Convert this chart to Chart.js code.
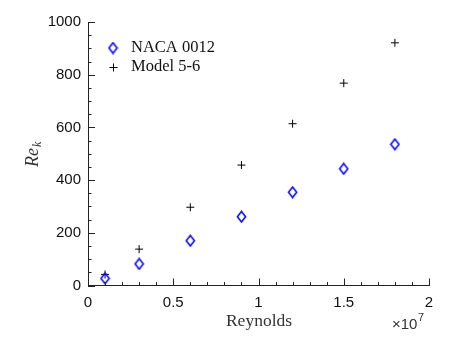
<!DOCTYPE html>
<html>
<head>
<meta charset="utf-8">
<script src="https://cdn.jsdelivr.net/npm/chart.js@4.4.1/dist/chart.umd.min.js"></script>
<style>
html,body{margin:0;padding:0;background:#fff;}
#c{display:block;}
</style>
</head>
<body>
<canvas id="c" width="462" height="347"></canvas>
<script>
// ---- data ----
const reynolds = [1e6, 3e6, 6e6, 9e6, 12e6, 15e6, 18e6];
const naca0012 = [27, 82, 170, 261, 354, 443, 536];
const model56 = [42, 138, 297, 457, 614, 768, 921];
const seriesNames = ['NACA 0012', 'Model 5-6'];
const xTickValues = [0, 0.5e7, 1e7, 1.5e7, 2e7];
const yTickValues = [0, 200, 400, 600, 800, 1000];

// diamond point style (hollow, slightly taller than wide)
function makeDiamond(){
  const cv = document.createElement('canvas');
  cv.width = 11; cv.height = 13;
  const g = cv.getContext('2d');
  g.strokeStyle = '#0000ff';
  g.lineWidth = 1.5;
  g.beginPath();
  g.moveTo(5.5, 1.2); g.lineTo(9.6, 6.5); g.lineTo(5.5, 11.8); g.lineTo(1.4, 6.5); g.closePath();
  g.stroke();
  return cv;
}
const diamond = makeDiamond();

function drawCross(ctx, x, y, r){
  ctx.save();
  ctx.strokeStyle = '#000';
  ctx.lineWidth = 1;
  ctx.beginPath();
  ctx.moveTo(x - r, y); ctx.lineTo(x + r, y);
  ctx.moveTo(x, y - r); ctx.lineTo(x, y + r);
  ctx.stroke();
  ctx.restore();
}

const decorPlugin = {
  id: 'decor',
  afterDraw(chart){
    const ctx = chart.ctx;
    const xs = chart.scales.x, ys = chart.scales.y;
    const ca = chart.chartArea;
    ctx.save();
    ctx.strokeStyle = '#222';
    ctx.lineWidth = 1;
    // x ticks (inward)
    for (let i = 0; i <= 20; i++){
      const v = i * 1e6;
      const px = Math.round(xs.getPixelForValue(v)) + 0.5;
      const len = (i % 5 === 0) ? 7 : 3.5;
      ctx.beginPath(); ctx.moveTo(px, ca.bottom); ctx.lineTo(px, ca.bottom - len); ctx.stroke();
    }
    // y ticks (inward)
    for (let i = 0; i <= 20; i++){
      const v = i * 50;
      const py = Math.round(ys.getPixelForValue(v)) + 0.5;
      const len = (i % 4 === 0) ? 7 : 3.5;
      ctx.beginPath(); ctx.moveTo(ca.left, py); ctx.lineTo(ca.left + len, py); ctx.stroke();
    }
    // legend
    ctx.drawImage(diamond, 113 - 5.5, 48 - 6.5);
    drawCross(ctx, 113.5, 67.5, 4);
    ctx.fillStyle = '#111';
    ctx.font = '16.5px "Liberation Serif", "DejaVu Serif", serif';
    ctx.textBaseline = 'middle';
    ctx.textAlign = 'left';
    ctx.fillText(seriesNames[0], 131, 48);
    ctx.fillText(seriesNames[1], 131, 67);
    // x-axis title
    ctx.fillStyle = '#333';
    ctx.font = '17.5px "Liberation Serif", "DejaVu Serif", serif';
    ctx.textAlign = 'center';
    ctx.fillText('Reynolds', 259, 321);
    // exponent label
    ctx.fillStyle = '#333';
    ctx.font = '15px "Liberation Sans", Arial, sans-serif';
    ctx.textAlign = 'left';
    const ew = ctx.measureText('\u00d710').width;
    ctx.fillText('\u00d710', 392, 325);
    ctx.font = '11px "Liberation Sans", Arial, sans-serif';
    ctx.fillText('7', 392 + ew + 0.5, 318);
    // y-axis title
    ctx.translate(32, 153);
    ctx.rotate(-Math.PI / 2);
    ctx.fillStyle = '#333';
    ctx.font = 'italic 18px "Liberation Serif", "DejaVu Serif", serif';
    ctx.textAlign = 'left';
    ctx.textBaseline = 'alphabetic';
    const w = ctx.measureText('Re').width;
    const w2 = 9;
    const start = -(w + w2) / 2;
    ctx.fillText('Re', start, 6);
    ctx.font = 'italic 12px "Liberation Serif", "DejaVu Serif", serif';
    ctx.fillText('k', start + w + 1, 9);
    ctx.restore();
  }
};

new Chart(document.getElementById('c'), {
  type: 'scatter',
  data: {
    datasets: [
      {
        label: seriesNames[0],
        data: reynolds.map((x, i) => ({x: x, y: naca0012[i]})),
        pointStyle: diamond,
        pointRadius: 6,
        borderColor: '#0000ff',
        backgroundColor: 'rgba(0,0,0,0)'
      },
      {
        label: seriesNames[1],
        data: reynolds.map((x, i) => ({x: x, y: model56[i]})),
        pointStyle: 'cross',
        pointRadius: 4,
        borderWidth: 1,
        borderColor: '#000',
        backgroundColor: '#000'
      }
    ]
  },
  options: {
    responsive: false,
    animation: false,
    events: [],
    layout: { padding: { top: 22, right: 33, left: 0, bottom: 0 } },
    plugins: { legend: { display: false }, tooltip: { enabled: false } },
    scales: {
      x: {
        type: 'linear',
        min: 0, max: 2e7,
        afterBuildTicks(scale){ scale.ticks = xTickValues.map(v => ({value: v})); },
        afterFit(scale){ scale.height = 61.5; },
        grid: { display: false, drawTicks: false },
        border: { display: true, color: '#222', width: 1 },
        ticks: {
          padding: 8,
          color: '#111',
          font: { family: '"Liberation Sans", Arial, sans-serif', size: 15 },
          callback: v => String(v / 1e7)
        }
      },
      y: {
        type: 'linear',
        min: 0, max: 1000,
        afterBuildTicks(scale){ scale.ticks = yTickValues.map(v => ({value: v})); },
        afterFit(scale){ scale.width = 88; },
        grid: { display: false, drawTicks: false },
        border: { display: true, color: '#222', width: 1 },
        ticks: {
          padding: 7,
          color: '#111',
          font: { family: '"Liberation Sans", Arial, sans-serif', size: 15 },
          callback: v => String(v)
        }
      }
    }
  },
  plugins: [decorPlugin]
});
</script>
</body>
</html>
